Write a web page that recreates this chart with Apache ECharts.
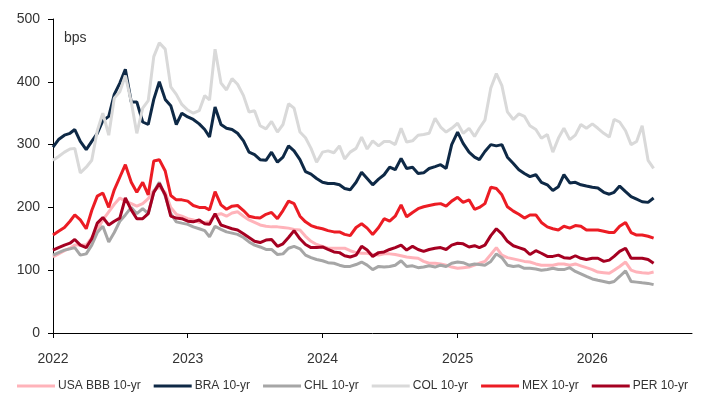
<!DOCTYPE html>
<html>
<head>
<meta charset="utf-8">
<script src="https://cdn.jsdelivr.net/npm/echarts@6/dist/echarts.min.js"></script>
<style>
  html, body { margin: 0; padding: 0; background: #fff; }
  #main { width: 709px; height: 398px; }
</style>
</head>
<body>
<div id="main"></div>
<script>
// semi-monthly observations, 2022-01-01 .. 2026-06-16
const dates = []
for (let y = 2022; y <= 2026; y++) {
  for (let m = 1; m <= 12; m++) {
    [1, 16].forEach(d => {
      if (y === 2026 && m > 6) return
      dates.push(y + '-' + String(m).padStart(2, '0') + '-' + String(d).padStart(2, '0'))
    })
  }
}

const seriesNames = ['USA BBB 10-yr', 'BRA 10-yr', 'CHL 10-yr', 'COL 10-yr', 'MEX 10-yr', 'PER 10-yr']

const usa = [121,126,131,135,140,140,140,152,165,180,193,205,215,210,206,202,206,214,227,232,224,200,189,186,
  182,180,176,176,177,188,190,186,191,193,186,180,176,172,170,169,169,168,167,165,164,154,146,141,
  138,135,135,135,135,131,128,127,127,125,124,126,126,125,123,121,120,119,114,111,111,110,108,105,
  103,104,105,108,111,114,125,136,124,120,118,116,114,113,110,108,108,108,110,110,108,110,107,104,
  101,97,96,95,100,106,113,100,97,96,95,97]

const bra = [296,308,315,318,324,305,292,305,318,338,345,380,398,420,368,368,336,332,372,400,372,362,332,350,
  344,340,333,324,312,360,332,326,324,318,306,288,284,276,275,288,272,280,298,290,276,257,253,246,
  240,238,238,236,230,228,240,256,246,236,245,252,264,260,278,262,264,254,255,262,265,268,262,300,
  320,302,288,280,276,289,300,298,300,280,270,260,254,249,252,240,236,227,233,252,239,240,236,234,
  232,231,224,221,224,234,225,217,213,209,208,215]

const chl = [124,128,132,134,136,124,126,140,160,170,145,160,178,188,200,190,198,190,225,240,218,190,177,175,
  173,169,166,163,153,170,165,161,159,157,152,145,140,137,133,133,125,126,135,138,134,124,120,117,
  115,112,111,108,106,106,109,113,108,101,106,105,106,108,115,106,107,104,105,107,105,108,106,111,
  113,112,108,110,109,108,114,126,120,108,106,107,103,103,102,100,101,103,101,101,104,98,94,90,
  86,84,82,80,82,90,99,82,81,80,79,77]

const col = [275,281,288,293,294,255,264,275,322,350,315,374,384,410,368,318,358,370,440,462,452,392,380,364,
  355,350,354,378,371,452,398,387,405,396,378,352,354,330,325,337,320,332,365,358,320,311,294,272,
  288,290,287,298,277,288,294,312,293,306,298,305,305,300,326,304,306,315,316,318,342,328,320,326,
  334,318,326,313,326,339,390,413,394,352,340,349,345,330,324,310,316,288,310,326,308,315,332,326,
  333,326,318,312,340,336,322,300,305,330,275,262]

const mex = [156,162,168,178,188,180,166,195,218,223,200,228,248,268,240,224,240,220,274,276,258,219,212,212,
  210,203,200,200,196,225,204,197,202,203,195,186,184,183,189,192,182,195,210,206,186,177,171,168,
  166,163,161,161,157,155,168,174,167,157,168,182,178,186,204,185,192,198,201,203,205,206,202,210,
  216,208,212,197,200,206,232,230,220,201,194,189,183,188,188,176,169,166,164,170,167,171,170,164,
  164,164,162,160,160,170,176,160,156,156,154,151]

const per = [132,136,140,143,149,140,136,150,175,184,172,178,183,215,196,182,182,190,224,238,220,186,183,182,
  178,177,180,174,173,190,172,169,166,164,158,152,146,144,148,149,138,142,152,163,150,141,136,136,
  137,133,129,128,123,121,124,138,132,122,128,129,133,136,140,132,138,133,130,133,135,136,133,140,
  143,142,137,139,136,140,155,166,158,146,139,136,133,125,131,127,122,122,124,120,119,123,119,117,
  119,119,114,116,122,130,135,119,119,119,117,111]

const colors = ['#ffb3ba', '#0e2946', '#a6a6a6', '#d9d9d9', '#ec1c24', '#a50021']
const values = [usa, bra, chl, col, mex, per]

const font = "'Liberation Sans', Arial, sans-serif"

const series = seriesNames.map((name, k) => ({
  name: name,
  type: 'line',
  data: dates.map((d, i) => [d, values[k][i]]),
  showSymbol: false,
  symbol: 'none',
  lineStyle: { width: 3, color: colors[k] },
  itemStyle: { color: colors[k] },
  z: 2 + k
}))

const chart = echarts.init(document.getElementById('main'))
chart.setOption({
  animation: false,
  backgroundColor: '#fff',
  textStyle: { fontFamily: font },
  grid: { left: 53, right: 17, top: 19, bottom: 65, containLabel: false },
  graphic: [{
    type: 'text',
    left: 64,
    top: 31,
    style: { text: 'bps', font: '14px ' + font, fill: '#333' }
  }],
  legend: {
    data: seriesNames,
    left: 12,
    top: 375,
    icon: 'rect',
    itemWidth: 38,
    itemHeight: 3,
    itemGap: 13,
    textStyle: { fontSize: 12, color: '#333', fontFamily: font, padding: [0, 0, 0, -2] }
  },
  xAxis: {
    type: 'time',
    min: '2022-01-01',
    max: '2026-09-28',
    minInterval: 365 * 24 * 3600 * 1000,
    maxInterval: 366 * 24 * 3600 * 1000,
    splitLine: { show: false },
    axisLine: { lineStyle: { color: '#000', width: 1 } },
    axisTick: { show: true, length: 5, lineStyle: { color: '#000' } },
    axisLabel: {
      formatter: '{yyyy}',
      color: '#333',
      fontSize: 14,
      fontFamily: font,
      margin: 19,
      showMinLabel: true,
      showMaxLabel: false
    }
  },
  yAxis: {
    type: 'value',
    min: 0,
    max: 500,
    interval: 100,
    splitLine: { show: false },
    axisLine: { show: true, lineStyle: { color: '#000', width: 1 } },
    axisTick: { show: true, length: 5, lineStyle: { color: '#000' } },
    axisLabel: { color: '#333', fontSize: 14, fontFamily: font, margin: 13 }
  },
  series: series
})
</script>
</body>
</html>
